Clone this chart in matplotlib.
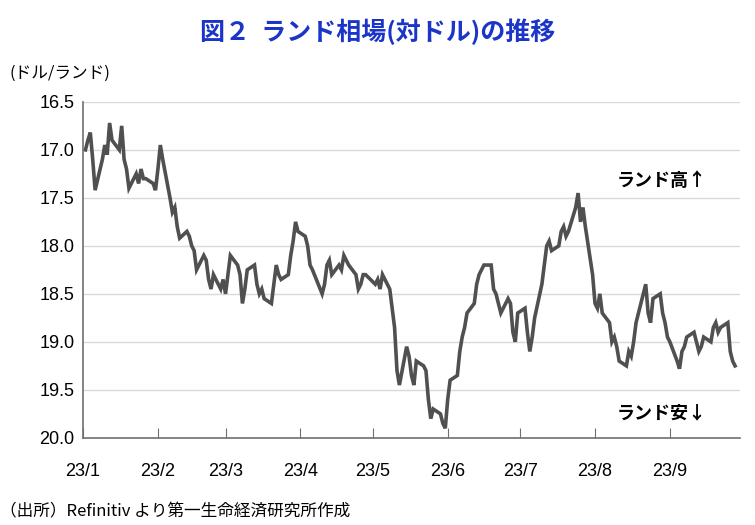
import matplotlib
matplotlib.use("Agg")
import matplotlib.pyplot as plt
import matplotlib.dates as mdates
import pandas as pd

plt.rcParams['font.family'] = ['Noto Sans CJK JP', 'DejaVu Sans']

dates = ["01-02","01-03","01-04","01-05","01-06","01-09","01-10","01-11","01-12","01-13","01-16","01-17","01-18","01-19","01-20",
"01-23","01-24","01-25","01-26","01-27","01-30","01-31","02-01","02-02","02-03","02-06","02-07","02-08","02-09","02-10",
"02-13","02-14","02-15","02-16","02-17","02-20","02-21","02-22","02-23","02-24","02-27","02-28","03-01","03-02","03-03",
"03-06","03-07","03-08","03-09","03-10","03-13","03-14","03-15","03-16","03-17","03-20","03-21","03-22","03-23","03-24",
"03-27","03-28","03-29","03-30","03-31","04-03","04-04","04-05","04-06","04-10","04-11","04-12","04-13","04-14","04-17",
"04-18","04-19","04-20","04-21","04-24","04-25","04-26","04-27","04-28","05-02","05-03","05-04","05-05","05-08","05-09",
"05-10","05-11","05-12","05-15","05-16","05-17","05-18","05-19","05-22","05-23","05-24","05-25","05-26","05-29","05-30",
"05-31","06-01","06-02","06-05","06-06","06-07","06-08","06-09","06-12","06-13","06-14","06-15","06-16","06-19","06-20",
"06-21","06-22","06-23","06-26","06-27","06-28","06-29","06-30","07-03","07-04","07-05","07-06","07-07","07-10","07-11",
"07-12","07-13","07-14","07-17","07-18","07-19","07-20","07-21","07-24","07-25","07-26","07-27","07-28","07-31","08-01",
"08-02","08-03","08-04","08-07","08-08","08-09","08-10","08-11","08-14","08-15","08-16","08-17","08-18","08-21","08-22",
"08-23","08-24","08-25","08-28","08-29","08-30","08-31","09-01","09-04","09-05","09-06","09-07","09-08","09-11","09-12",
"09-13","09-14","09-15","09-18","09-19","09-20","09-21","09-22","09-25","09-26","09-27","09-28"]
rates = [17.0,16.9,16.82,17.1,17.42,17.1,16.95,17.05,16.72,16.9,17.0,16.75,17.1,17.2,17.4,
17.25,17.35,17.2,17.3,17.3,17.35,17.42,17.2,16.95,17.1,17.5,17.65,17.6,17.8,17.92,
17.85,17.9,18.0,18.05,18.25,18.1,18.15,18.35,18.45,18.3,18.45,18.35,18.5,18.3,18.1,
18.2,18.3,18.6,18.45,18.25,18.2,18.4,18.5,18.45,18.55,18.6,18.4,18.2,18.3,18.35,
18.3,18.1,17.95,17.75,17.85,17.9,18.0,18.2,18.25,18.5,18.4,18.2,18.15,18.3,18.2,
18.25,18.1,18.15,18.2,18.3,18.45,18.4,18.3,18.3,18.4,18.35,18.45,18.3,18.45,18.65,
18.85,19.3,19.45,19.05,19.15,19.35,19.45,19.2,19.25,19.3,19.6,19.8,19.7,19.75,19.85,
19.9,19.6,19.4,19.35,19.1,18.95,18.85,18.7,18.6,18.4,18.3,18.25,18.2,18.2,18.45,
18.5,18.6,18.7,18.55,18.6,18.9,19.0,18.7,18.65,18.9,19.1,18.95,18.75,18.4,18.2,
18.0,17.95,18.05,18.0,17.85,17.8,17.9,17.85,17.6,17.45,17.75,17.6,17.8,18.3,18.6,
18.65,18.5,18.7,18.8,19.0,18.95,19.05,19.2,19.25,19.1,19.15,19.0,18.8,18.5,18.4,
18.7,18.8,18.55,18.5,18.7,18.8,18.95,19.0,19.2,19.28,19.1,19.05,18.95,18.9,19.0,
19.1,19.05,18.95,19.0,18.85,18.8,18.9,18.85,18.8,19.1,19.2,19.25]
month_labels = ["23/1","23/2","23/3","23/4","23/5","23/6","23/7","23/8","23/9"]
y_ticks = [16.5,17.0,17.5,18.0,18.5,19.0,19.5,20.0]

x = pd.to_datetime(["2023-" + d for d in dates])

fig = plt.figure(figsize=(7.55, 5.25), dpi=100)
ax = fig.add_axes([0.110, 0.166, 0.870, 0.640])
ax.plot(x, rates, color='#505050', lw=2.6, solid_joinstyle='miter')
ax.set_ylim(20.0, 16.5)
ax.set_yticks(y_ticks)
ax.set_yticklabels([f"{v:.1f}" for v in y_ticks], fontsize=13, fontfamily=['Liberation Sans', 'DejaVu Sans'])
ax.set_xlim(pd.Timestamp("2023-01-01"), pd.Timestamp("2023-09-30"))
mt = pd.date_range("2023-01-01", periods=9, freq="MS")
ax.set_xticks(mt)
ax.set_xticklabels(month_labels, fontsize=13, fontfamily=['Liberation Sans', 'DejaVu Sans'])
ax.tick_params(axis='y', length=0, pad=6)
ax.tick_params(axis='x', direction='in', length=7, color='#707070', pad=18)
ax.grid(axis='y', color='#d9d9d9', lw=1)
ax.set_axisbelow(True)
for s in ['top', 'right']:
    ax.spines[s].set_visible(False)
for s in ['left', 'bottom']:
    ax.spines[s].set_color('#707070')
    ax.spines[s].set_linewidth(1.2)

fig.text(0.5, 0.94, "図２  ランド相場(対ドル)の推移", ha='center', va='center', fontsize=18,
         fontweight='bold', color='#1a35c8')
fig.text(0.012, 0.86, "(ドル/ランド)", ha='left', va='center', fontsize=12)
ax.text(0.95, 0.765, "ランド高↑", transform=ax.transAxes, ha='right', va='center', fontsize=13, fontweight='bold')
ax.text(0.95, 0.075, "ランド安↓", transform=ax.transAxes, ha='right', va='center', fontsize=13, fontweight='bold')
fig.text(0.0, 0.025, "（出所）Refinitiv より第一生命経済研究所作成", ha='left', va='center', fontsize=12)

fig.savefig("out.png", dpi=100)
